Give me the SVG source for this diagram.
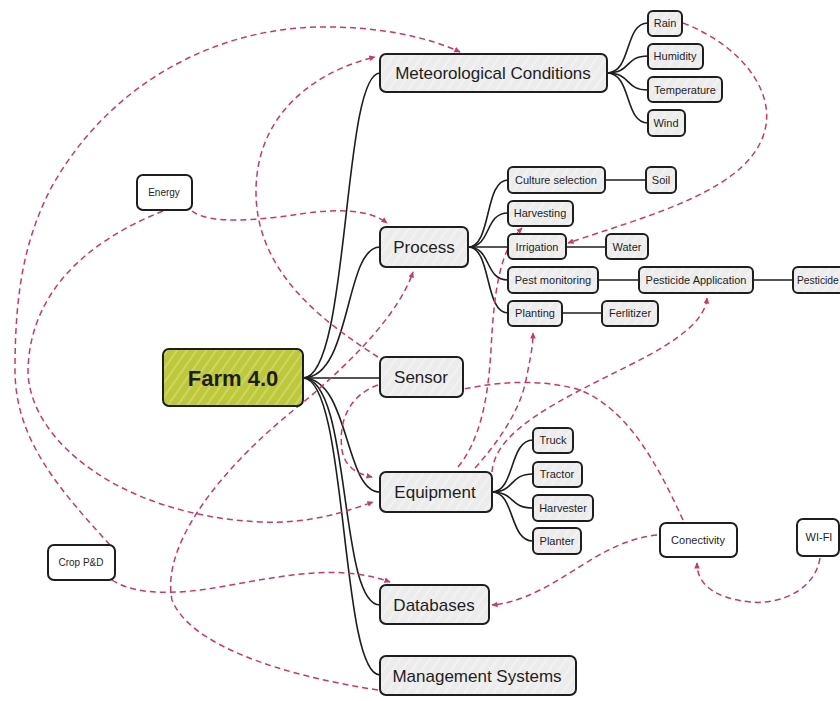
<svg xmlns="http://www.w3.org/2000/svg" width="840" height="701" viewBox="0 0 840 701">
  <defs>
    <style>
      .box { stroke: #1e1e1e; stroke-width: 2; stroke-linejoin: round; }
      .gray { fill: url(#hatchGray); }
      .plain { fill: #ffffff; }
      .root { fill: url(#hatchGreen); }
      .t { font-family: "Liberation Sans", Arial, sans-serif; fill: #1e1e1e; text-anchor: middle; dominant-baseline: central; }
      .big { font-size: 17px; }
      .small { font-size: 11px; }
      .tiny { font-size: 10px; }
      .title { font-size: 22px; font-weight: bold; }
      .tree { fill: none; stroke: #1e1e1e; stroke-width: 1.6; stroke-linecap: round; }
      .rel { fill: none; stroke: #c9386b; stroke-width: 1.5; stroke-dasharray: 6 4; marker-end: url(#arrow); }
    </style>
    <pattern id="hatchGray" patternUnits="userSpaceOnUse" width="8" height="8" patternTransform="rotate(35)">
      <rect width="8" height="8" fill="#ececec"/>
      <line x1="2" y1="0" x2="2" y2="8" stroke="#f9f9f9" stroke-width="1"/>
    </pattern>
    <pattern id="hatchGreen" patternUnits="userSpaceOnUse" width="8" height="8" patternTransform="rotate(35)">
      <rect width="8" height="8" fill="#bdc93b"/>
      <line x1="2" y1="0" x2="2" y2="8" stroke="#dde48a" stroke-width="1"/>
    </pattern>
    <marker id="arrow" viewBox="0 0 10 10" refX="8" refY="5" markerWidth="7" markerHeight="7" orient="auto" markerUnits="userSpaceOnUse">
      <path d="M0,1 L9,5 L0,9 z" fill="#c9386b"/>
    </marker>
  </defs>

  <rect width="840" height="701" fill="#ffffff"/>

  <!-- connectors -->
  <g id="connectors">
    <!-- hierarchy links -->
    <g id="tree-links">
      <path class="tree" d="M303,378 C350,378 342,73 380,73"/>
      <path class="tree" d="M303,378 C352,378 344,247 380,247"/>
      <path class="tree" d="M303,378 L380,378"/>
      <path class="tree" d="M303,378 C350,378 344,492 380,492"/>
      <path class="tree" d="M303,378 C352,378 338,605 380,605"/>
      <path class="tree" d="M303,378 C348,378 340,675 380,675"/>

      <path class="tree" d="M607,73 C632,73 624,23 648,23"/>
      <path class="tree" d="M607,73 C632,73 624,56 648,56"/>
      <path class="tree" d="M607,73 C632,73 624,90 648,90"/>
      <path class="tree" d="M607,73 C632,73 624,123 648,123"/>

      <path class="tree" d="M468,247 C492,247 484,180 508,180"/>
      <path class="tree" d="M468,247 C492,247 484,213 508,213"/>
      <path class="tree" d="M468,247 L508,247"/>
      <path class="tree" d="M468,247 C492,247 484,280 508,280"/>
      <path class="tree" d="M468,247 C492,247 484,313 508,313"/>
      <path class="tree" d="M605,180 L646,180"/>
      <path class="tree" d="M566,247 L606,247"/>
      <path class="tree" d="M598,280 L639,280"/>
      <path class="tree" d="M753,280 L793,280"/>
      <path class="tree" d="M562,313 L602,313"/>

      <path class="tree" d="M492,492 C515,492 509,440 533,440"/>
      <path class="tree" d="M492,492 C515,492 509,474 533,474"/>
      <path class="tree" d="M492,492 C515,492 509,508 533,508"/>
      <path class="tree" d="M492,492 C515,492 509,541 533,541"/>
    </g>
    <!-- relation links -->
    <g id="relation-links">
      <path class="rel" d="M110,545 C60,490 15,440 15,370 C15,290 25,240 50,190 C110,80 220,28 320,27 C380,26 430,38 460,52"/>
      <path class="rel" d="M163,211 C90,240 30,290 28,370 C28,440 120,515 260,522 C310,524 345,512 373,502"/>
      <path class="rel" d="M192,211 C210,225 260,220 300,214 C340,208 370,210 387,223"/>
      <path class="rel" d="M378,357 C320,320 255,270 256,190 C257,110 320,70 375,57"/>
      <path class="rel" d="M683,23 C740,45 775,90 765,130 C750,190 650,215 568,243"/>
      <path class="rel" d="M378,690 C280,675 190,645 172,600 C160,540 230,460 300,405 C360,355 400,310 413,272"/>
      <path class="rel" d="M112,580 C130,592 160,595 200,590 C260,582 330,560 390,582"/>
      <path class="rel" d="M378,385 C350,395 338,420 342,450 C345,468 358,474 372,477"/>
      <path class="rel" d="M458,467 C480,440 488,400 491,350 C494,290 500,250 522,228"/>
      <path class="rel" d="M475,468 C500,440 520,410 526,380 C531,355 533,345 533,333"/>
      <path class="rel" d="M492,472 C495,430 560,400 630,365 C680,340 705,320 707,298"/>
      <path class="rel" d="M683,520 C660,470 630,410 580,390 C530,375 470,385 435,397"/>
      <path class="rel" d="M657,535 C610,540 580,570 540,590 C520,600 505,604 492,605"/>
      <path class="rel" d="M820,558 C815,590 780,605 750,602 C715,598 697,585 697,563"/>
    </g>
  </g>

  <!-- nodes -->
  <g id="farm">
    <rect class="box root" x="163" y="349" width="140" height="57" rx="6"/>
    <text class="t title" x="233" y="378">Farm 4.0</text>
  </g>

  <g id="meteorological">
    <rect class="box gray" x="380" y="54" width="227" height="38" rx="6"/>
    <text class="t big" x="493" y="73">Meteorological Conditions</text>
  </g>
  <g id="rain">
    <rect class="box gray" x="648" y="11" width="34" height="25" rx="5"/>
    <text class="t small" x="665" y="23">Rain</text>
  </g>
  <g id="humidity">
    <rect class="box gray" x="648" y="44" width="55" height="25" rx="5"/>
    <text class="t small" x="675" y="56">Humidity</text>
  </g>
  <g id="temperature">
    <rect class="box gray" x="648" y="77" width="74" height="25" rx="5"/>
    <text class="t small" x="685" y="90">Temperature</text>
  </g>
  <g id="wind">
    <rect class="box gray" x="648" y="110" width="37" height="26" rx="5"/>
    <text class="t small" x="666" y="123">Wind</text>
  </g>

  <g id="process">
    <rect class="box gray" x="380" y="227" width="88" height="40" rx="6"/>
    <text class="t big" x="424" y="247">Process</text>
  </g>
  <g id="culture-selection">
    <rect class="box gray" x="508" y="167" width="97" height="26" rx="5"/>
    <text class="t small" x="556" y="180">Culture selection</text>
  </g>
  <g id="soil">
    <rect class="box gray" x="646" y="167" width="30" height="26" rx="5"/>
    <text class="t small" x="661" y="180">Soil</text>
  </g>
  <g id="harvesting">
    <rect class="box gray" x="508" y="201" width="65" height="25" rx="5"/>
    <text class="t small" x="540" y="213">Harvesting</text>
  </g>
  <g id="irrigation">
    <rect class="box gray" x="508" y="234" width="58" height="25" rx="5"/>
    <text class="t small" x="537" y="247">Irrigation</text>
  </g>
  <g id="water">
    <rect class="box gray" x="606" y="234" width="42" height="25" rx="5"/>
    <text class="t small" x="627" y="247">Water</text>
  </g>
  <g id="pest-monitoring">
    <rect class="box gray" x="508" y="267" width="90" height="26" rx="5"/>
    <text class="t small" x="553" y="280">Pest monitoring</text>
  </g>
  <g id="pesticide-application">
    <rect class="box gray" x="639" y="267" width="114" height="26" rx="5"/>
    <text class="t small" x="696" y="280">Pesticide Application</text>
  </g>
  <g id="pesticide">
    <rect class="box gray" x="793" y="267" width="70" height="26" rx="5"/>
    <text class="t" x="797" y="280" style="text-anchor:start;font-size:10.3px">Pesticide</text>
  </g>
  <g id="planting">
    <rect class="box gray" x="508" y="301" width="54" height="25" rx="5"/>
    <text class="t small" x="535" y="313">Planting</text>
  </g>
  <g id="fertilizer">
    <rect class="box gray" x="602" y="301" width="56" height="25" rx="5"/>
    <text class="t small" x="630" y="313">Ferlitizer</text>
  </g>

  <g id="sensor">
    <rect class="box gray" x="380" y="357" width="83" height="40" rx="6"/>
    <text class="t big" x="421" y="377">Sensor</text>
  </g>

  <g id="equipment">
    <rect class="box gray" x="380" y="472" width="112" height="40" rx="6"/>
    <text class="t big" x="435" y="492">Equipment</text>
  </g>
  <g id="truck">
    <rect class="box gray" x="533" y="428" width="40" height="25" rx="5"/>
    <text class="t small" x="553" y="440">Truck</text>
  </g>
  <g id="tractor">
    <rect class="box gray" x="533" y="462" width="49" height="25" rx="5"/>
    <text class="t small" x="557" y="474">Tractor</text>
  </g>
  <g id="harvester">
    <rect class="box gray" x="533" y="495" width="60" height="26" rx="5"/>
    <text class="t small" x="563" y="508">Harvester</text>
  </g>
  <g id="planter">
    <rect class="box gray" x="533" y="528" width="48" height="26" rx="5"/>
    <text class="t small" x="557" y="541">Planter</text>
  </g>

  <g id="databases">
    <rect class="box gray" x="380" y="585" width="109" height="39" rx="6"/>
    <text class="t big" x="434" y="605">Databases</text>
  </g>
  <g id="management-systems">
    <rect class="box gray" x="380" y="656" width="196" height="39" rx="6"/>
    <text class="t big" x="477" y="676">Management Systems</text>
  </g>

  <g id="energy">
    <rect class="box plain" x="137" y="175" width="55" height="35" rx="6"/>
    <text class="t tiny" x="164" y="192">Energy</text>
  </g>
  <g id="crop-pd">
    <rect class="box plain" x="48" y="545" width="67" height="35" rx="6"/>
    <text class="t tiny" x="81" y="562">Crop P&amp;D</text>
  </g>
  <g id="conectivity">
    <rect class="box plain" x="660" y="523" width="77" height="34" rx="6"/>
    <text class="t small" x="698" y="540">Conectivity</text>
  </g>
  <g id="wifi">
    <rect class="box plain" x="797" y="519" width="42" height="37" rx="6"/>
    <text class="t small" x="819" y="537">WI-FI</text>
  </g>
</svg>
